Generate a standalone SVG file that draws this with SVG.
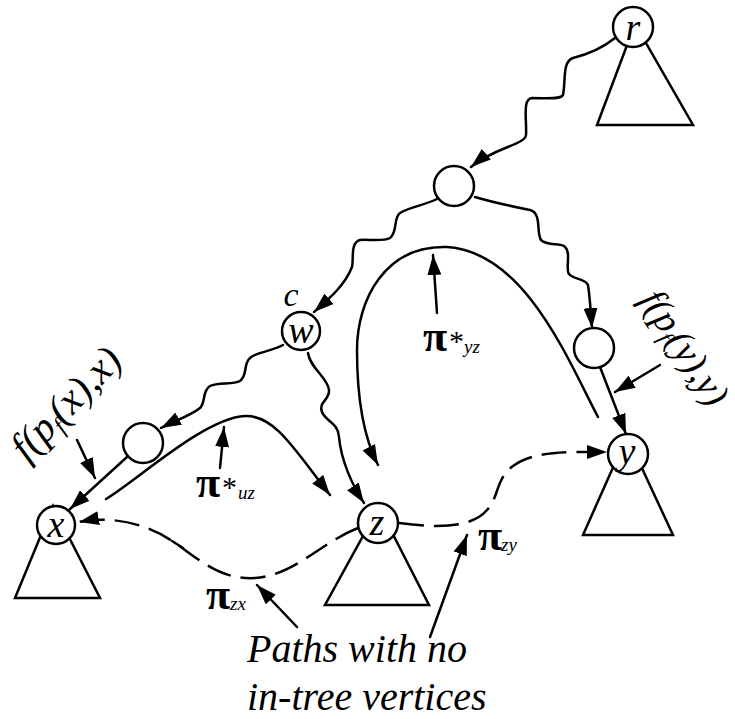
<svg xmlns="http://www.w3.org/2000/svg" width="735" height="719" viewBox="0 0 735 719">
  <style>
    .edge { fill: none; stroke: #000; stroke-width: 2.5; stroke-linecap: round; stroke-linejoin: round; }
    .dash { stroke-dasharray: 25 10; stroke-linecap: butt; }
    .node { fill: #fff; stroke: #000; stroke-width: 2.5; }
    .tree { fill: #fff; stroke: #000; stroke-width: 2.5; stroke-linejoin: miter; }
    .lbl { font-family: "Liberation Serif", "DejaVu Serif", serif; font-style: italic; fill: #000; }
    .pi { font-family: "Liberation Serif", "DejaVu Serif", serif; font-weight: bold; font-size: 44px; fill: #000; }
    .star { font-family: "Liberation Serif", "DejaVu Serif", serif; font-size: 30px; fill: #000; }
    .sub { font-family: "Liberation Serif", "DejaVu Serif", serif; font-style: italic; font-size: 19px; fill: #000; }
  </style>
  <defs>
    <marker id="ah" viewBox="0 0 20 14" refX="20" refY="7" markerWidth="20" markerHeight="15" orient="auto" markerUnits="userSpaceOnUse">
      <path d="M0,0 L20,7 L0,14 z" fill="#000"/>
    </marker>
  </defs>

  <!-- subtrees hanging below the vertices -->
  <g id="tree-r"><polygon class="tree" points="635,24 597,125 693,125"/></g>
  <g id="tree-x"><polygon class="tree" points="53,506 15,598 100,598"/></g>
  <g id="tree-z"><polygon class="tree" points="379,507 325,605 429,605"/></g>
  <g id="tree-y"><polygon class="tree" points="627,436 583,535 673,535"/></g>

  <g id="connectors">
    <!-- wavy tree paths -->
    <path class="edge" marker-end="url(#ah)" d="M615,38 C600,50 585,55 573,58 C562,62 566,80 563,95 C560,100 545,98 532,98 C522,99 527,120 526,135 C525,145 495,147 471,167"/>
    <path class="edge" marker-end="url(#ah)" d="M437,199 C425,205 410,207 400,213 C393,218 398,232 390,238 C383,242 368,239 360,240 C350,243 354,258 352,267 C345,285 330,298 314,312"/>
    <path class="edge" marker-end="url(#ah)" d="M475,197 C495,203 515,207 530,210 C542,213 536,232 541,240 C547,246 558,243 564,246 C572,252 565,268 569,274 C574,280 585,278 588,285 C590,298 591,315 592,328"/>
    <path class="edge" marker-end="url(#ah)" d="M283,345 C270,352 256,352 250,358 C243,364 248,375 240,381 C233,385 218,382 210,386 C202,391 206,402 200,408 C190,416 176,420 161,428"/>
    <path class="edge" marker-end="url(#ah)" d="M308,353 C310,368 328,378 329,390 C330,400 318,402 322,412 C326,422 338,422 339,437 C341,460 352,485 364,503"/>
    <!-- tree edges into x and y -->
    <path class="edge" marker-end="url(#ah)" d="M127,457 L70,509"/>
    <path class="edge" marker-end="url(#ah)" d="M600,367 L626,434"/>
    <!-- shortest paths -->
    <path class="edge" marker-end="url(#ah)" d="M598,417 C568,360 525,252 447,247 C385,245 357,300 357,350 C357,400 365,440 378,465"/>
    <path class="edge" marker-end="url(#ah)" d="M106,499 C140,478 205,418 245,416 C275,415 295,450 330,495"/>
    <!-- paths with no in-tree vertices -->
    <path class="edge dash" marker-end="url(#ah)" d="M358,528 C320,543 295,575 255,578 C220,580 200,560 175,543 C150,525 115,515 79,522"/>
    <path class="edge" d="M172,541 L183,548" stroke-width="2"/>
    <path class="edge dash" marker-end="url(#ah)" d="M399,523 C430,527 470,530 487,510 C500,495 495,480 513,466 C535,450 570,452 607,452"/>
    <!-- label pointers -->
    <path class="edge" marker-end="url(#ah)" d="M77,440 L95,478"/>
    <path class="edge" marker-end="url(#ah)" d="M660,365 L615,392"/>
    <path class="edge" marker-end="url(#ah)" d="M220,468 L224,427"/>
    <path class="edge" marker-end="url(#ah)" d="M437,313 L433,255"/>
    <path class="edge" marker-end="url(#ah)" d="M297,627 L257,585"/>
    <path class="edge" marker-end="url(#ah)" d="M430,637 L467,535"/>
  </g>

  <!-- vertices -->
  <g id="node-r"><circle class="node" cx="633" cy="27" r="20"/><text class="lbl" x="633" y="40" font-size="38" text-anchor="middle">r</text></g>
  <g id="node-top"><circle class="node" cx="454" cy="186" r="20"/></g>
  <g id="node-w"><circle class="node" cx="301" cy="331" r="19"/><text class="lbl" x="301" y="343" font-size="38" text-anchor="middle">w</text>
    <text class="lbl" x="291" y="306" font-size="34" text-anchor="middle">c</text></g>
  <g id="node-py"><circle class="node" cx="594" cy="348" r="20"/></g>
  <g id="node-px"><circle class="node" cx="143" cy="443" r="20"/></g>
  <g id="node-x"><circle class="node" cx="56" cy="525" r="19"/><text class="lbl" x="56" y="537" font-size="38" text-anchor="middle">x</text></g>
  <g id="node-z"><circle class="node" cx="378" cy="523" r="20"/><text class="lbl" x="377" y="535" font-size="38" text-anchor="middle">z</text></g>
  <g id="node-y"><circle class="node" cx="628" cy="454" r="20"/><text class="lbl" x="627" y="464" font-size="38" text-anchor="middle">y</text></g>

  <!-- edge labels -->
  <g id="label-fx">
    <text class="lbl" font-size="41" transform="translate(27,463) rotate(-46)">f(p<tspan font-size="24" dy="6">f</tspan><tspan dy="-6">(x),x)</tspan></text>
  </g>
  <g id="label-fy">
    <text class="lbl" font-size="38" transform="translate(639,300) rotate(57)">f(p<tspan font-size="23" dy="6">f</tspan><tspan dy="-6">(y),y)</tspan></text>
  </g>
  <g id="label-pi-yz"><text x="423" y="351"><tspan class="pi">π</tspan><tspan class="star" x="449">*</tspan><tspan class="sub" x="464" dy="2">yz</tspan></text></g>
  <g id="label-pi-uz"><text x="196" y="497"><tspan class="pi">π</tspan><tspan class="star" x="222">*</tspan><tspan class="sub" x="238" dy="2">uz</tspan></text></g>
  <g id="label-pi-zx"><text x="206" y="609"><tspan class="pi">π</tspan><tspan class="sub" x="230" dy="1">zx</tspan></text></g>
  <g id="label-pi-zy"><text x="478" y="550"><tspan class="pi">π</tspan><tspan class="sub" x="501" dy="1">zy</tspan></text></g>
  <g id="label-note">
    <text class="lbl" x="247" y="662" font-size="40">Paths with no</text>
    <text class="lbl" x="247" y="710" font-size="40">in-tree vertices</text>
  </g>
</svg>
